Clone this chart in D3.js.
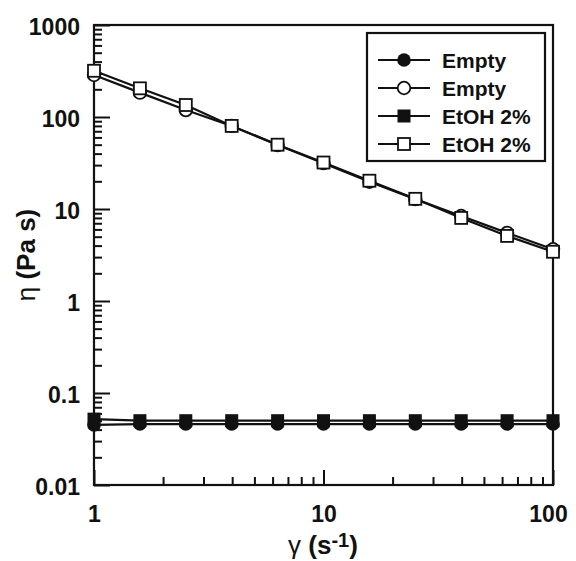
<!DOCTYPE html>
<html>
<head>
<meta charset="utf-8">
<script src="https://cdn.jsdelivr.net/npm/d3@7"></script>
<style>
  html, body { margin: 0; padding: 0; background: #fff; }
  svg { display: block; }
  text { font-family: "Liberation Sans", Arial, sans-serif; font-weight: bold; fill: #111; }
</style>
</head>
<body>
<svg id="chart" width="576" height="561"></svg>
<script>
// ---- data ----
const shearRate = [1, 1.585, 2.512, 3.981, 6.310, 10, 15.85, 25.12, 39.81, 63.10, 100];
const emptyFilled = [0.045, 0.046, 0.046, 0.046, 0.046, 0.046, 0.046, 0.046, 0.046, 0.046, 0.046];
const emptyOpen   = [286, 184, 119, 80, 49.5, 31.5, 19.8, 12.8, 8.4, 5.5, 3.65];
const etohFilled  = [0.052, 0.050, 0.050, 0.050, 0.050, 0.050, 0.050, 0.050, 0.050, 0.050, 0.050];
const etohOpen    = [318, 205, 135, 80, 50, 32, 20.3, 12.9, 8.0, 5.1, 3.43];
const seriesNames = ["Empty", "Empty", "EtOH 2%", "EtOH 2%"];
const xTickValues = [1, 10, 100];
const xTickLabels = ["1", "10", "100"];
const yTickValues = [1000, 100, 10, 1, 0.1, 0.01];
const yTickLabels = ["1000", "100", "10", "1", "0.1", "0.01"];

const series = [
  { name: seriesNames[0], values: emptyFilled, shape: "circle", filled: true },
  { name: seriesNames[1], values: emptyOpen,   shape: "circle", filled: false },
  { name: seriesNames[2], values: etohFilled,  shape: "square", filled: true },
  { name: seriesNames[3], values: etohOpen,    shape: "square", filled: false }
];

const ink = "#111";
const svg = d3.select("#chart");
const m = { left: 94, right: 553, top: 25, bottom: 485 };

const x = d3.scaleLog().domain([1, 100]).range([m.left, m.right]);
const y = d3.scaleLog().domain([0.01, 1000]).range([m.bottom, m.top]);

// minor tick values
const xMinor = [], yMinor = [];
for (let e = 0; e < 2; e++) for (let k = 2; k <= 9; k++) xMinor.push(k * Math.pow(10, e));
for (let e = -2; e < 3; e++) for (let k = 2; k <= 9; k++) yMinor.push(+(k * Math.pow(10, e)).toPrecision(3));

// axes: minor ticks
const gxMinor = svg.append("g").attr("transform", `translate(0,${m.bottom})`)
  .call(d3.axisBottom(x).tickValues(xMinor).tickSize(-8).tickSizeOuter(0).tickFormat(""));
const gyMinor = svg.append("g").attr("transform", `translate(${m.left},0)`)
  .call(d3.axisLeft(y).tickValues(yMinor).tickSize(-8).tickSizeOuter(0).tickFormat(""));
// axes: major ticks with labels
const gx = svg.append("g").attr("transform", `translate(0,${m.bottom})`)
  .call(d3.axisBottom(x).tickValues(xTickValues).tickSize(-15).tickSizeOuter(0).tickPadding(21)
    .tickFormat((d, i) => xTickLabels[i]));
const gy = svg.append("g").attr("transform", `translate(${m.left},0)`)
  .call(d3.axisLeft(y).tickValues(yTickValues).tickSize(-16).tickSizeOuter(0).tickPadding(14)
    .tickFormat((d, i) => yTickLabels[i]));

[gxMinor, gyMinor, gx, gy].forEach(g => {
  g.select(".domain").remove();
  g.selectAll(".tick line").attr("stroke", ink).attr("stroke-width", 2);
  g.selectAll(".tick text").attr("font-size", 23).attr("font-family", '"Liberation Sans", Arial, sans-serif')
    .attr("font-weight", "bold").attr("fill", ink);
});
gy.selectAll(".tick text").attr("dy", "0.4em");
gx.selectAll(".tick text").attr("dx", (d, i) => i === xTickValues.length - 1 ? -5 : 0);

// frame
svg.append("rect")
  .attr("x", m.left).attr("y", m.top)
  .attr("width", m.right - m.left).attr("height", m.bottom - m.top)
  .attr("fill", "none").attr("stroke", ink).attr("stroke-width", 2.2);

// series
const line = d3.line().x(d => x(d[0])).y(d => y(d[1]));
const R = 6.3, S = 12;
function drawMarker(g, shape, filled, cx, cy) {
  if (shape === "circle") {
    g.append("circle").attr("cx", cx).attr("cy", cy).attr("r", filled ? R + 0.5 : R)
      .attr("fill", filled ? ink : "#fff").attr("stroke", ink).attr("stroke-width", filled ? 0 : 1.8);
  } else {
    const s = filled ? S + 1 : S;
    g.append("rect").attr("x", cx - s / 2).attr("y", cy - s / 2).attr("width", s).attr("height", s)
      .attr("fill", filled ? ink : "#fff").attr("stroke", ink).attr("stroke-width", filled ? 0 : 1.8);
  }
}
series.forEach(s => {
  const pts = shearRate.map((v, i) => [v, s.values[i]]);
  const g = svg.append("g");
  g.append("path").attr("d", line(pts)).attr("fill", "none").attr("stroke", ink).attr("stroke-width", 2.2);
  pts.forEach(p => drawMarker(g, s.shape, s.filled, x(p[0]), y(p[1])));
});

// legend
const lg = svg.append("g");
lg.append("rect").attr("x", 367).attr("y", 33).attr("width", 178).attr("height", 128)
  .attr("fill", "#fff").attr("stroke", ink).attr("stroke-width", 2.2);
series.forEach((s, i) => {
  const cy = 60 + i * 28;
  lg.append("line").attr("x1", 378).attr("x2", 430).attr("y1", cy).attr("y2", cy)
    .attr("stroke", ink).attr("stroke-width", 2.2);
  drawMarker(lg, s.shape, s.filled, 404, cy);
  lg.append("text").attr("x", 442).attr("y", cy + 7.5).attr("font-size", 21).text(s.name);
});

// axis titles
const xt = svg.append("text").attr("x", 323).attr("y", 554).attr("text-anchor", "middle").attr("font-size", 26);
xt.append("tspan").attr("font-weight", "normal").text("γ");
xt.append("tspan").text(" (s");
xt.append("tspan").attr("font-size", 20).attr("dy", -7).text("-1");
xt.append("tspan").attr("dy", 7).text(")");

const yt = svg.append("text").attr("transform", "translate(35,255) rotate(-90)")
  .attr("text-anchor", "middle").attr("font-size", 26);
yt.append("tspan").attr("font-weight", "normal").text("η");
yt.append("tspan").text(" (Pa s)");
</script>
</body>
</html>
